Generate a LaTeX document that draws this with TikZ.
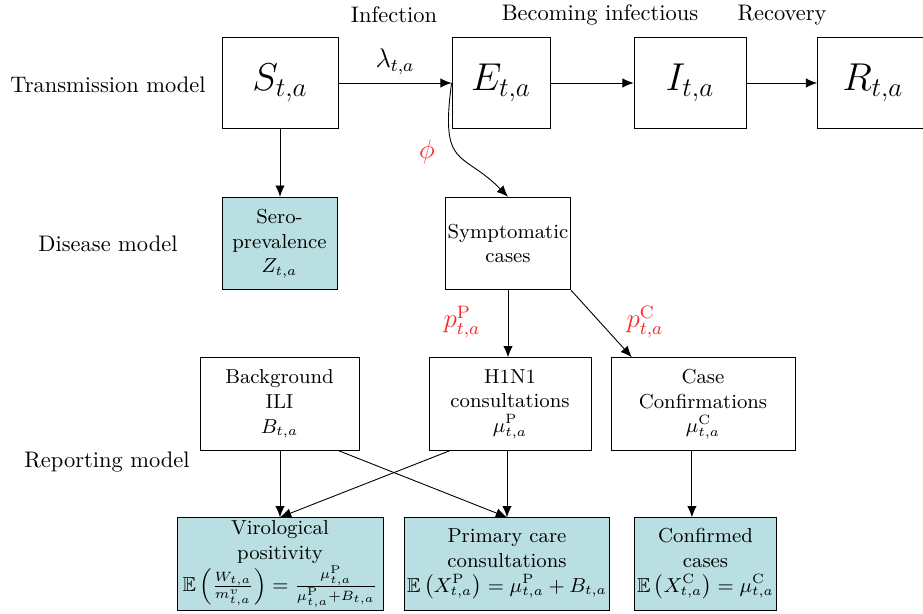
\documentclass[tikz,border=0pt]{standalone}
\usepackage{xcolor}
\usepackage{amsmath}
\usepackage{amssymb}
\usepackage{tikz}
\usetikzlibrary{positioning, calc, arrows.meta, shapes}

\definecolor{obsfill}{RGB}{185,223,227}
\definecolor{parred}{RGB}{250,40,40}

\begin{document}
\begin{tikzpicture}[x=0.445pt, y=-0.445pt, >={Latex[length=5pt, width=4.2pt]}]
			\tikzstyle{statebox}=[draw=black, minimum height=40.9pt, fill=none, text=black, font=\LARGE]
			\tikzstyle{latentbox}=[draw=black, minimum height=41.2pt, fill=none, text=black, align=center, font=\small, inner sep=1pt]
			\tikzstyle{obsbox}=[latentbox, fill=obsfill]
			\tikzstyle{param}=[text=parred, font=\large]
			
			\useasboundingbox (0,0) rectangle (923,614);
			
			% transmission model
			\node (S) at (280,83) [statebox, minimum width=51.6pt] {$S_{t,a}$};
			\node (E) at (501,83) [statebox, minimum width=43.6pt] {$E_{t,a}$};
			\node (I) at (690,83) [statebox, minimum width=49.8pt] {$I_{t,a}$};
			\node (R) at (873,83) [statebox, minimum width=49.4pt] {$R_{t,a}$};
			
			% disease model
			\node (sero) at (279.5,243.5) [obsbox, minimum width=51.2pt] {Sero-\\prevalence\\$Z_{t,a}$};
			\node (symp) at (508,243.5) [latentbox, minimum width=55.6pt] {Symptomatic\\cases};
			
			% reporting model
			\node (bg) at (279.5,404) [latentbox, minimum width=70.8pt] {Background\\ILI\\$B_{t,a}$};
			\node (hn) at (510,404) [latentbox, minimum width=72.1pt] {H1N1\\consultations\\$\mu^{\mathrm{P}}_{t,a}$};
			\node (case) at (703,404) [latentbox, minimum width=81.9pt] {Case\\Confirmations\\$\mu^{\mathrm{C}}_{t,a}$};
			
			\node (viro) at (280,564) [obsbox, minimum width=91.7pt] {Virological\\positivity\\$\mathbb{E}\left(\frac{W_{t,a}}{m^{v}_{t,a}}\right)=\frac{\mu^{\mathrm{P}}_{t,a}}{\mu^{\mathrm{P}}_{t,a}+B_{t,a}}$};
			\node (prim) at (507,564) [obsbox, minimum width=90.8pt] {Primary care\\consultations\\$\mathbb{E}\left(X^{\mathrm{P}}_{t,a}\right)=\mu^{\mathrm{P}}_{t,a}+B_{t,a}$};
			\node (conf) at (705.5,564) [obsbox, minimum width=61.9pt] {Confirmed\\cases\\$\mathbb{E}\left(X^{\mathrm{C}}_{t,a}\right)=\mu^{\mathrm{C}}_{t,a}$};
			
			% row and step labels
			\node (ltrans) at (108,85) {Transmission model};
			\node (ldis) at (108,244) {Disease model};
			\node (lrep) at (107,462) {Reporting model};
			\node (linf) at (394,15) {Infection};
			\node (lbec) at (600,15) {Becoming infectious};
			\node (lrec) at (782,15) {Recovery};
			
			\draw [->] (S) -- node[above, font=\large] {$\lambda_{t,a}$} (E);
			\draw [->] (E) -- (I);
			\draw [->] (I) -- (R);
			\draw [->] (S) -- (S |- sero.north);
			
			\coordinate (bend1) at (440,170);
			\coordinate (bend2) at (462,150);
			\draw [->] (E.west) .. controls (bend1) and (bend2) .. (symp.north);
			\node (phi) at (427,152) [param] {$\phi$};
			
			\draw [->] (symp.south) -- (symp.south |- hn.north);
			\draw [->] (symp.south east) -- ($(case.north west)!0.115!(case.north east)$);
			\node (pP) at (462,322) [param] {$p^{\mathrm{P}}_{t,a}$};
			\node (pC) at (645,322) [param] {$p^{\mathrm{C}}_{t,a}$};
			
			\draw [->] (bg.south -| viro.north) -- (viro.north);
			\draw [->] ($(bg.south west)!0.87!(bg.south east)$) -- (prim.north);
			\draw [->] ($(hn.south west)!0.13!(hn.south east)$) -- (viro.north);
			\draw [->] (hn.south -| prim.north) -- (prim.north);
			\coordinate (cfoot) at ($(case.south west)!0.44!(case.south east)$);
			\draw [->] (cfoot) -- (cfoot |- conf.north);
			
			%		\path (0, -2) -- (0.1, -2);
			
			\end{tikzpicture}
\end{document}
